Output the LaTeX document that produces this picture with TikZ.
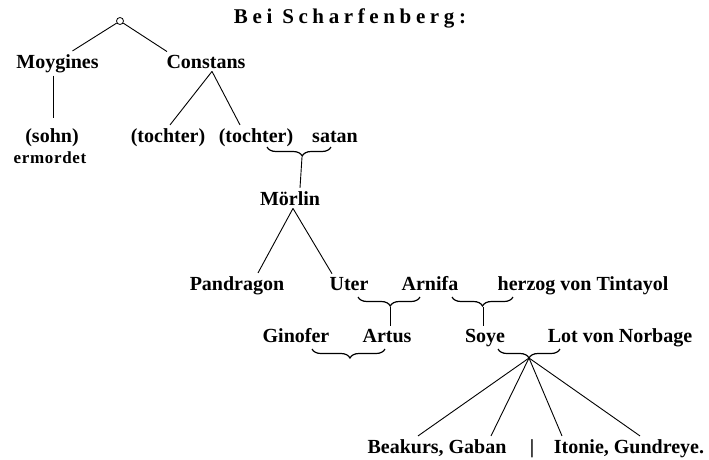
\documentclass[tikz,border=0pt]{standalone}
\usepackage{fontspec}
\setmainfont{Liberation Serif}
\usetikzlibrary{decorations.pathreplacing}
\begin{document}
\begin{tikzpicture}[x=1pt,y=-1pt,
  lbl/.style={inner xsep=0pt, inner ysep=3pt, anchor=base, font=\fontsize{20}{22}\selectfont\bfseries},
  small/.style={inner xsep=0pt, inner ysep=3pt, anchor=base, font=\fontsize{17}{19}\selectfont\bfseries\addfontfeature{LetterSpace=4}},
  ttl/.style={inner sep=0pt, anchor=base, font=\fontsize{21}{23}\selectfont\bfseries\addfontfeature{LetterSpace=22}},
  conn/.style={line width=0.9pt},
  brc/.style={decorate, decoration={brace, mirror, amplitude=9pt}, line width=1.2pt},
]
\useasboundingbox (0,0) rectangle (709,459);

% title and root
\node[ttl] (title) at (350,23) {Bei Scharfenberg:};
\node[circle, draw, line width=0.8pt, minimum size=7pt, inner sep=0pt] (root) at (120,21) {};

% row 1
\node[lbl] (moy) at (57.5,68) {Moygines};
\node[lbl] (con) at (206,68) {Constans};

% row 2
\node[lbl] (sohn) at (52,142) {(sohn)};
\node[small] (erm) at (50,163) {ermordet};
\node[lbl] (t1) at (168,142) {(tochter)};
\node[lbl] (t2) at (256,142) {(tochter)};
\node[lbl] (satan) at (335,142) {satan};

% row 3
\node[lbl] (morlin) at (290,205) {Mörlin};

% row 4
\node[lbl] (pan) at (237,290) {Pandragon};
\node[lbl] (uter) at (349,290) {Uter};
\node[lbl] (arnifa) at (430,290) {Arnifa};
\node[lbl] (herzog) at (583,290) {herzog von Tintayol};

% row 5
\node[lbl] (gin) at (296,342) {Ginofer};
\node[lbl] (artus) at (387,342) {Artus};
\node[lbl] (soye) at (485,342) {Soye};
\node[lbl] (lot) at (620,342) {Lot von Norbage};

% row 6
\node[lbl] (beak) at (437,453) {Beakurs, Gaban};
\node[lbl] (bar) at (532,453) {|};
\node[lbl] (iton) at (629,453) {Itonie, Gundreye.};

% connectors
\draw[conn] (root) -- ([xshift=15pt]moy.north);
\draw[conn] (root) -- ([xshift=-39pt]con.north);
\draw[conn] ([xshift=-4.5pt]moy.south) -- ([xshift=1pt,yshift=7pt]sohn.north);
\draw[conn] ([xshift=6pt]con.south) -- ([xshift=2pt]t1.north);
\draw[conn] ([xshift=6pt]con.south) -- ([xshift=-16pt]t2.north);

% brace tochter + satan
\coordinate (b1a) at (267,147);
\coordinate (b1b) at (331,147);
\coordinate (b1t) at (302,157);
\draw[brc, decoration={aspect=0.55}] (b1a) -- (b1b);
\draw[conn] (b1t) -- ([xshift=10pt]morlin.north);

\draw[conn] ([xshift=3pt]morlin.south) -- ([xshift=21pt]pan.north);
\draw[conn] ([xshift=3pt]morlin.south) -- ([xshift=-17pt]uter.north);

% brace Uter + Arnifa
\coordinate (b2a) at (358,297);
\coordinate (b2b) at (420,297);
\coordinate (b2t) at (390,307);
\draw[brc, decoration={aspect=0.52}] (b2a) -- (b2b);
\draw[conn] (b2t) -- ([xshift=3pt]artus.north);

% brace Arnifa + herzog
\coordinate (b3a) at (452,297);
\coordinate (b3b) at (513,297);
\coordinate (b3t) at (483,307);
\draw[brc, decoration={aspect=0.5}] (b3a) -- (b3b);
\draw[conn] (b3t) -- ([xshift=-2pt]soye.north);

% brace Ginofer + Artus
\coordinate (b4a) at (312,349);
\coordinate (b4b) at (385,349);
\draw[brc, decoration={aspect=0.52}] (b4a) -- (b4b);

% brace Soye + Lot
\coordinate (b5a) at (498,349);
\coordinate (b5b) at (560,349);
\coordinate (b5t) at (529,358);
\draw[brc, decoration={aspect=0.5}] (b5a) -- (b5b);
\draw[conn] (b5t) -- ([xshift=-19pt]beak.north);
\draw[conn] (b5t) -- ([xshift=54pt]beak.north);
\draw[conn] (b5t) -- ([xshift=-67pt]iton.north);
\draw[conn] (b5t) -- ([xshift=11pt]iton.north);
\end{tikzpicture}
\end{document}
